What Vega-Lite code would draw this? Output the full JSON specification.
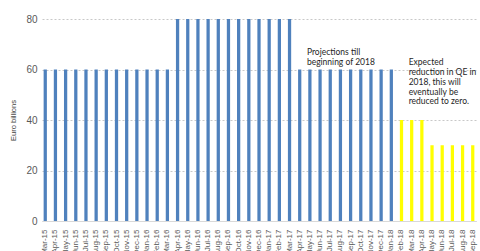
{
  "$schema": "https://vega.github.io/schema/vega-lite/v6.json",
  "width": 434,
  "height": 202,
  "autosize": {"type": "none"},
  "padding": {"left": 42, "top": 19, "right": 4, "bottom": 30},
  "background": "white",
  "config": {"view": {"stroke": null}},
  "datasets": {
    "bars": [
      {"month": "Mar-15", "value": 60, "phase": "actual"},
      {"month": "Apr-15", "value": 60, "phase": "actual"},
      {"month": "May-15", "value": 60, "phase": "actual"},
      {"month": "Jun-15", "value": 60, "phase": "actual"},
      {"month": "Jul-15", "value": 60, "phase": "actual"},
      {"month": "Aug-15", "value": 60, "phase": "actual"},
      {"month": "Sep-15", "value": 60, "phase": "actual"},
      {"month": "Oct-15", "value": 60, "phase": "actual"},
      {"month": "Nov-15", "value": 60, "phase": "actual"},
      {"month": "Dec-15", "value": 60, "phase": "actual"},
      {"month": "Jan-16", "value": 60, "phase": "actual"},
      {"month": "Feb-16", "value": 60, "phase": "actual"},
      {"month": "Mar-16", "value": 60, "phase": "actual"},
      {"month": "Apr-16", "value": 80, "phase": "actual"},
      {"month": "May-16", "value": 80, "phase": "actual"},
      {"month": "Jun-16", "value": 80, "phase": "actual"},
      {"month": "Jul-16", "value": 80, "phase": "actual"},
      {"month": "Aug-16", "value": 80, "phase": "actual"},
      {"month": "Sep-16", "value": 80, "phase": "actual"},
      {"month": "Oct-16", "value": 80, "phase": "actual"},
      {"month": "Nov-16", "value": 80, "phase": "actual"},
      {"month": "Dec-16", "value": 80, "phase": "actual"},
      {"month": "Jan-17", "value": 80, "phase": "actual"},
      {"month": "Feb-17", "value": 80, "phase": "actual"},
      {"month": "Mar-17", "value": 80, "phase": "actual"},
      {"month": "Apr-17", "value": 60, "phase": "actual"},
      {"month": "May-17", "value": 60, "phase": "actual"},
      {"month": "Jun-17", "value": 60, "phase": "actual"},
      {"month": "Jul-17", "value": 60, "phase": "actual"},
      {"month": "Aug-17", "value": 60, "phase": "actual"},
      {"month": "Sep-17", "value": 60, "phase": "actual"},
      {"month": "Oct-17", "value": 60, "phase": "actual"},
      {"month": "Nov-17", "value": 60, "phase": "actual"},
      {"month": "Dec-17", "value": 60, "phase": "actual"},
      {"month": "Jan-18", "value": 60, "phase": "actual"},
      {"month": "Feb-18", "value": 40, "phase": "expected"},
      {"month": "Mar-18", "value": 40, "phase": "expected"},
      {"month": "Apr-18", "value": 40, "phase": "expected"},
      {"month": "May-18", "value": 30, "phase": "expected"},
      {"month": "Jun-18", "value": 30, "phase": "expected"},
      {"month": "Jul-18", "value": 30, "phase": "expected"},
      {"month": "Aug-18", "value": 30, "phase": "expected"},
      {"month": "Sep-18", "value": 30, "phase": "expected"}
    ],
    "notes": [
      {"month": "May-17", "value": 68.5, "note": "Projections till\nbeginning of 2018"},
      {"month": "Mar-18", "value": 64.5, "note": "Expected\nreduction in QE in\n2018,  this will\neventually be\nreduced to zero."}
    ]
  },
  "layer": [
    {
      "data": {"name": "bars"},
      "mark": {"type": "bar"},
      "encoding": {
        "x": {
          "field": "month",
          "type": "ordinal",
          "sort": null,
          "scale": {"paddingInner": 0.68, "paddingOuter": 0.16},
          "axis": {
            "title": null,
            "labelAngle": -90,
            "labelFontSize": 8,
            "labelFont": "Liberation Sans",
            "labelColor": "#595959",
            "ticks": false,
            "labelPadding": 8,
            "domainColor": "#d9d9d9"
          }
        },
        "y": {
          "field": "value",
          "type": "quantitative",
          "scale": {"domain": [0, 80], "nice": false},
          "axis": {
            "title": "Euro billions",
            "titleFontSize": 7.5,
            "titleFont": "Liberation Sans",
            "titleFontWeight": "normal",
            "titleColor": "#404040",
            "titlePadding": 8,
            "values": [0, 10, 20, 30, 40, 50, 60, 70, 80],
            "labelFontSize": 10,
            "labelFont": "Liberation Sans",
            "labelColor": "#595959",
            "labelPadding": 5,
            "ticks": false,
            "domain": false,
            "grid": true,
            "gridColor": "#c8c8c8",
            "gridDash": [2, 2]
          }
        },
        "color": {
          "field": "phase",
          "type": "nominal",
          "scale": {"domain": ["actual", "expected"], "range": ["#4F81BD", "#FFFF00"]},
          "legend": null
        }
      }
    },
    {
      "data": {"name": "notes"},
      "mark": {"type": "text", "align": "left", "baseline": "top", "font": "Lato", "fontSize": 8.5, "color": "#262626", "dx": -3, "lineBreak": "\n", "lineHeight": 9.8},
      "encoding": {
        "x": {"field": "month", "type": "ordinal", "sort": null},
        "y": {"field": "value", "type": "quantitative"},
        "text": {"field": "note"}
      }
    }
  ]
}
